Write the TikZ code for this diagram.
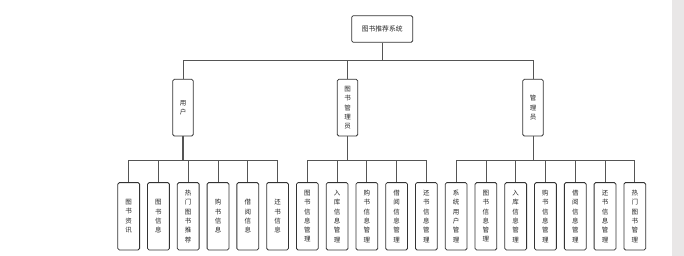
\documentclass[tikz,border=0pt]{standalone}
\usepackage{fontspec}
\newfontfamily\cjk{Noto Sans CJK SC}
\usepackage{tikz}
\usetikzlibrary{calc, positioning}
\definecolor{sidebar}{HTML}{E9E7E7}
\definecolor{linegray}{HTML}{555555}

\begin{document}
\begin{tikzpicture}[
    x=1pt, y=-1pt,
    box/.style={draw=black!80, line width=0.8pt, rounded corners=1.5pt, fill=white, inner sep=0pt, align=center, text=black!85},
    rootbox/.style={box, minimum width=61pt, minimum height=26.6pt, font=\fontsize{6.8}{8}\selectfont\cjk},
    rolebox/.style={box, minimum width=20.5pt, minimum height=56.7pt, font=\fontsize{6.5}{9.4}\selectfont\cjk},
    leafbox/.style={box, minimum width=21.8pt, minimum height=67.3pt, font=\fontsize{6.5}{9.3}\selectfont\cjk},
    link/.style={draw=linegray, line width=0.8pt},
    trunk/.style={draw=linegray, line width=1.3pt}
]

% Canvas and grey side strip
\useasboundingbox (0,0) rectangle (684,256);
\fill[sidebar] (672,0) rectangle (684,256);

% Root
\node[rootbox] (root) at (382.2,29) {图书推荐系统};

% Roles
\node[rolebox] (user)      at (183,107.7)   {用\\户};
\node[rolebox] (librarian) at (347.5,107.7) {图\\书\\管\\理\\员};
\node[rolebox] (admin)     at (533,107.7)   {管\\理\\员};

% Leaves: user
\foreach \t [count=\i from 0] in {{图\\书\\资\\讯},{图\\书\\信\\息},{热\\门\\图\\书\\推\\荐},{购\\书\\信\\息},{借\\阅\\信\\息},{还\\书\\信\\息}}
    \node[leafbox] (u\i) at (128.7+29.77*\i,216.3) {\t};

% Leaves: librarian
\foreach \t [count=\i from 0] in {{图\\书\\信\\息\\管\\理},{入\\库\\信\\息\\管\\理},{购\\书\\信\\息\\管\\理},{借\\阅\\信\\息\\管\\理},{还\\书\\信\\息\\管\\理}}
    \node[leafbox] (l\i) at (128.7+29.77*6+29.77*\i,216.3) {\t};

% Leaves: admin
\foreach \t [count=\i from 0] in {{系\\统\\用\\户\\管\\理},{图\\书\\信\\息\\管\\理},{入\\库\\信\\息\\管\\理},{购\\书\\信\\息\\管\\理},{借\\阅\\信\\息\\管\\理},{还\\书\\信\\息\\管\\理},{热\\门\\图\\书\\管\\理}}
    \node[leafbox] (a\i) at (128.7+29.77*11+29.77*\i,216.3) {\t};

% Bus junctions
\coordinate (bustop) at (382.2,60.7);
\coordinate (busu)   at (183,160);
\coordinate (busl)   at (347.5,160);
\coordinate (busa)   at (533,160);

% Root to roles
\draw[trunk] (root.south) -- (bustop);
\foreach \r in {user, librarian, admin}
    \draw[link] (bustop) -| (\r.north);

% Roles to leaves
\draw[trunk] (user.south) -- (busu);
\foreach \i in {0,...,5}
    \draw[link] (busu) -| (u\i.north);

\draw[trunk] (librarian.south) -- (busl);
\foreach \i in {0,...,4}
    \draw[link] (busl) -| (l\i.north);

\draw[link] (admin.south) -- (busa);
\foreach \i in {0,...,6}
    \draw[link] (busa) -| (a\i.north);

\end{tikzpicture}
\end{document}
